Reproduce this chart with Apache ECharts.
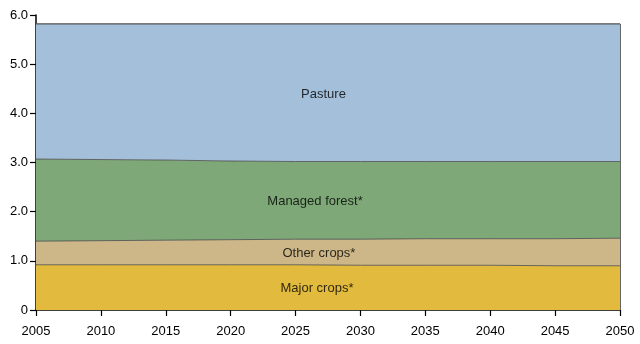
<!DOCTYPE html>
<html><head><meta charset="utf-8">
<script src="https://cdn.jsdelivr.net/npm/echarts@6/dist/echarts.min.js"></script>
<style>html,body{margin:0;padding:0;background:#fff}#c{width:640px;height:344px}</style>
</head><body><div id="c"></div>
<script>
const years = ['2005','2010','2015','2020','2025','2030','2035','2040','2045','2050'];
const majorCrops   = [0.92,0.92,0.92,0.92,0.92,0.91,0.91,0.91,0.90,0.90];
const otherCrops   = [0.48,0.49,0.50,0.51,0.52,0.53,0.54,0.54,0.55,0.56];
const managedForest= [1.67,1.65,1.63,1.60,1.58,1.58,1.57,1.57,1.57,1.56];
const pasture      = [2.75,2.76,2.77,2.79,2.80,2.80,2.80,2.80,2.80,2.80];
const seriesNames = ['Major crops*','Other crops*','Managed forest*','Pasture'];
const seriesColors = ['#e2bb3e','#cdb788','#7fa878','#a3bfda'];
const labelPos = [[2026.65,0.43],[2026.8,1.16],[2026.5,2.20],[2027.15,4.39]];
const yTicks = ['0','1.0','2.0','3.0','4.0','5.0','6.0'];

const FONT = 'Liberation Sans, Arial, Helvetica, sans-serif';
const values = [majorCrops, otherCrops, managedForest, pasture];
const series = values.map((v,i)=>({
  name: seriesNames[i], type:'line', stack:'total', symbol:'none',
  xAxisIndex:0, yAxisIndex:0,
  data: v,
  lineStyle:{color: i===3 ? '#555' : '#4a4a4a', width: i===3?1.2:0.8},
  areaStyle:{color: seriesColors[i], opacity:1},
  itemStyle:{color: seriesColors[i]},
  z: 2
}));
const total = years.map((y,j)=>values.reduce((s,a)=>s+a[j],0));
series[3].markLine = {
  silent:true, symbol:'none', label:{show:false},
  lineStyle:{color:'#666', width:1, type:'solid'},
  data:[[{coord:[years.length-1,0]},{coord:[years.length-1,total[total.length-1]]}]]
};
series.push({
  type:'scatter', symbolSize:0, silent:true, z:5, xAxisIndex:1, yAxisIndex:0,
  data: labelPos.map((p,i)=>({value:p, name:seriesNames[i]})),
  label:{show:true, position:'inside', formatter:p=>p.name, color:'#000',
    fontFamily:FONT, fontSize:13}
});

const chart = echarts.init(document.getElementById('c'));
chart.setOption({
  animation:false,
  grid:{left:36,right:20,top:15,bottom:34},
  xAxis:[{type:'category',data:years,boundaryGap:false,
    axisLine:{show:true,onZero:false,lineStyle:{color:'#000',width:1.5}},
    axisTick:{show:true,length:6,lineStyle:{color:'#000',width:1.2}},
    axisLabel:{color:'#000',fontFamily:FONT,fontSize:13,margin:15,interval:0},
    splitLine:{show:false}},
   {type:'value',min:2005,max:2050,show:false}],
  yAxis:{type:'value',min:0,max:6,interval:1,
    axisLine:{show:true,lineStyle:{color:'#000',width:1.5}},
    axisTick:{show:true,length:6,lineStyle:{color:'#000',width:1.2}},
    axisLabel:{color:'#000',fontFamily:FONT,fontSize:13,margin:8,
      formatter:(v)=>yTicks[Math.round(v)]},
    splitLine:{show:false}},
  series
});
</script></body></html>
